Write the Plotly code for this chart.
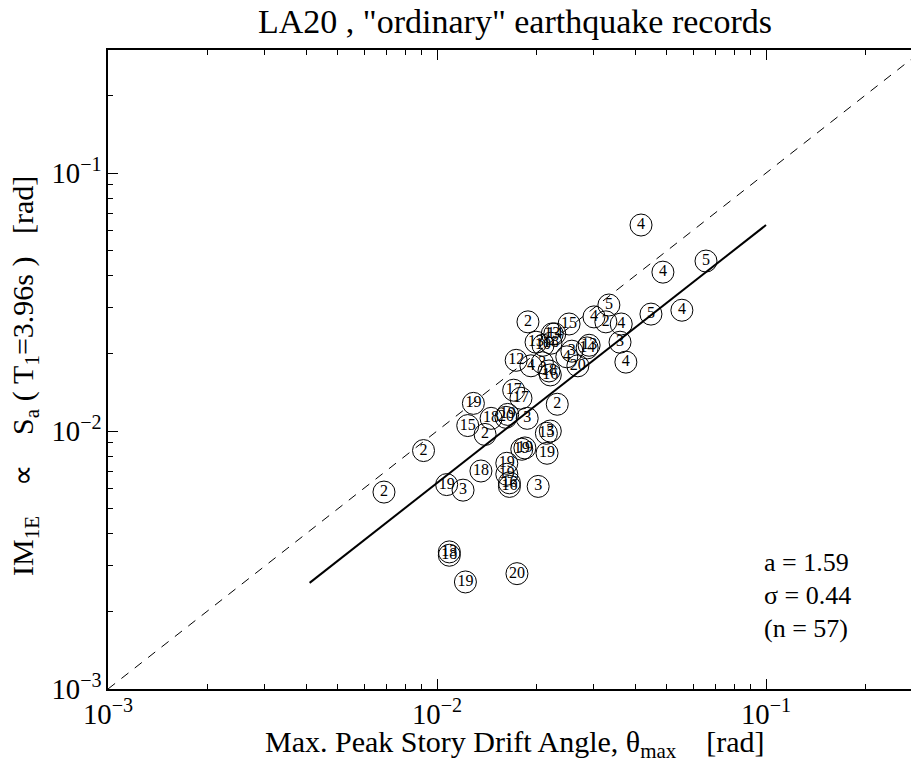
import numpy as np
import plotly.graph_objects as go

# Record labels (earthquake record numbers) and values
labels = ["4", "5", "4", "4", "5", "5", "4", "2", "4", "3",
          "4", "2", "15", "13", "10", "18", "14", "14", "13", "3",
          "4", "20", "12", "4", "3", "18", "16", "17", "17", "2",
          "19", "18", "20", "19", "3", "15", "2", "15", "3", "2",
          "19", "19", "19", "19", "18", "19", "16", "16", "3", "19",
          "3", "2", "13", "18", "20", "19", "13"]
theta_max = [0.0417, 0.0657, 0.0486, 0.0555, 0.0447, 0.0333, 0.0300, 0.0326, 0.0363, 0.0360,
             0.0375, 0.0189, 0.0252, 0.0200, 0.0210, 0.0222, 0.0228, 0.0286, 0.0290, 0.0257,
             0.0248, 0.0268, 0.0174, 0.0193, 0.0209, 0.0219, 0.0221, 0.0171, 0.0180, 0.0232,
             0.0129, 0.0146, 0.0162, 0.0164, 0.0188, 0.0124, 0.0140, 0.0215, 0.0221, 0.0091,
             0.0181, 0.0185, 0.0216, 0.0163, 0.0136, 0.0163, 0.0166, 0.0166, 0.0203, 0.0107,
             0.0120, 0.0069, 0.0109, 0.0109, 0.0175, 0.0122, 0.0224]
im_1e = [0.0629, 0.0456, 0.0413, 0.0294, 0.0284, 0.0308, 0.0277, 0.0265, 0.0260, 0.0221,
         0.0185, 0.0265, 0.0260, 0.0221, 0.0215, 0.0219, 0.0238, 0.0210, 0.0215, 0.0204,
         0.0194, 0.0179, 0.0188, 0.0179, 0.0184, 0.0171, 0.0165, 0.0144, 0.0134, 0.0127,
         0.0128, 0.0112, 0.0113, 0.0116, 0.0112, 0.0105, 0.0097, 0.0098, 0.0100, 0.0084,
         0.0085, 0.0086, 0.0082, 0.0075, 0.0070, 0.0068, 0.0061, 0.0063, 0.0061, 0.0062,
         0.0059, 0.0058, 0.0034, 0.0033, 0.0028, 0.0026, 0.0238]

# Reference (1:1) line and fitted line  IM = theta / a
ref_line_x = [0.001, 0.3]
ref_line_y = [0.001, 0.3]
a_fit = 1.59
fit_x = [0.0041, 0.1]
fit_y = [v / a_fit for v in fit_x]

stats_text = ["a = 1.59", "\u03c3 = 0.44", "(n = 57)"]

FONT = "Liberation Serif, Times New Roman, serif"
NB = "\u00a0"

fig = go.Figure()
fig.add_trace(go.Scatter(x=ref_line_x, y=ref_line_y, mode="lines",
                         line=dict(color="black", width=1, dash="9px,8px"),
                         showlegend=False, hoverinfo="skip"))
fig.add_trace(go.Scatter(x=fit_x, y=fit_y, mode="lines",
                         line=dict(color="black", width=2),
                         showlegend=False, hoverinfo="skip"))
fig.add_trace(go.Scatter(x=theta_max, y=im_1e, mode="markers+text",
                         text=labels, textposition="middle center",
                         textfont=dict(family=FONT, size=16, color="black"),
                         marker=dict(symbol="circle-open", size=22,
                                     color="black", line=dict(width=1, color="black")),
                         showlegend=False))

axis_common = dict(
    type="log", showgrid=False, zeroline=False,
    showline=True, linecolor="black", linewidth=1.5,
    ticks="inside", ticklen=10, tickcolor="black", tickwidth=1,
    dtick=1, exponentformat="power",
    tickfont=dict(family=FONT, size=23, color="black"),
    minor=dict(ticks="inside", ticklen=5, tickcolor="black", tickwidth=1, showgrid=False),
)

fig.update_layout(
    width=911, height=770,
    margin=dict(l=108, r=0, t=50, b=81),
    plot_bgcolor="white", paper_bgcolor="white",
    font=dict(family=FONT, color="black"),
    xaxis=dict(range=[-3, -0.5593], mirror="allticks", **axis_common),
    yaxis=dict(range=[-3, np.log10(0.3)], mirror=False, **axis_common),
)

# Title
fig.add_annotation(text='LA20 , "ordinary" earthquake records',
                   xref="paper", yref="paper", x=0.507, y=1, yshift=29,
                   xanchor="center", yanchor="middle", showarrow=False,
                   font=dict(family=FONT, size=34, color="black"))
# X title
fig.add_annotation(text="Max. Peak Story Drift Angle, \u03b8<sub>max</sub>" + NB * 4 + "[rad]",
                   xref="paper", yref="paper", x=0.507, y=0, yshift=-55,
                   xanchor="center", yanchor="middle", showarrow=False,
                   font=dict(family=FONT, size=30, color="black"))
# Y title
fig.add_annotation(text="IM<sub>1E</sub>" + NB * 4 + "\u221d" + NB * 4 + "S<sub>a</sub>" + NB + "(" + NB
                        + "T<sub>1</sub>=3.96s" + NB + ")" + NB * 3 + "[rad]",
                   xref="paper", yref="paper", x=0, y=0.49, xshift=-83,
                   xanchor="center", yanchor="middle", textangle=-90, showarrow=False,
                   font=dict(family=FONT, size=30, color="black"))
# Stats
for i, s in enumerate(stats_text):
    fig.add_annotation(text=s, xref="paper", yref="paper",
                       x=(762 - 108) / 803, y=(689 - (562 + 33 * i)) / 639,
                       xanchor="left", yanchor="middle", showarrow=False,
                       font=dict(family=FONT, size=26, color="black"))

fig.write_html("out.html")
